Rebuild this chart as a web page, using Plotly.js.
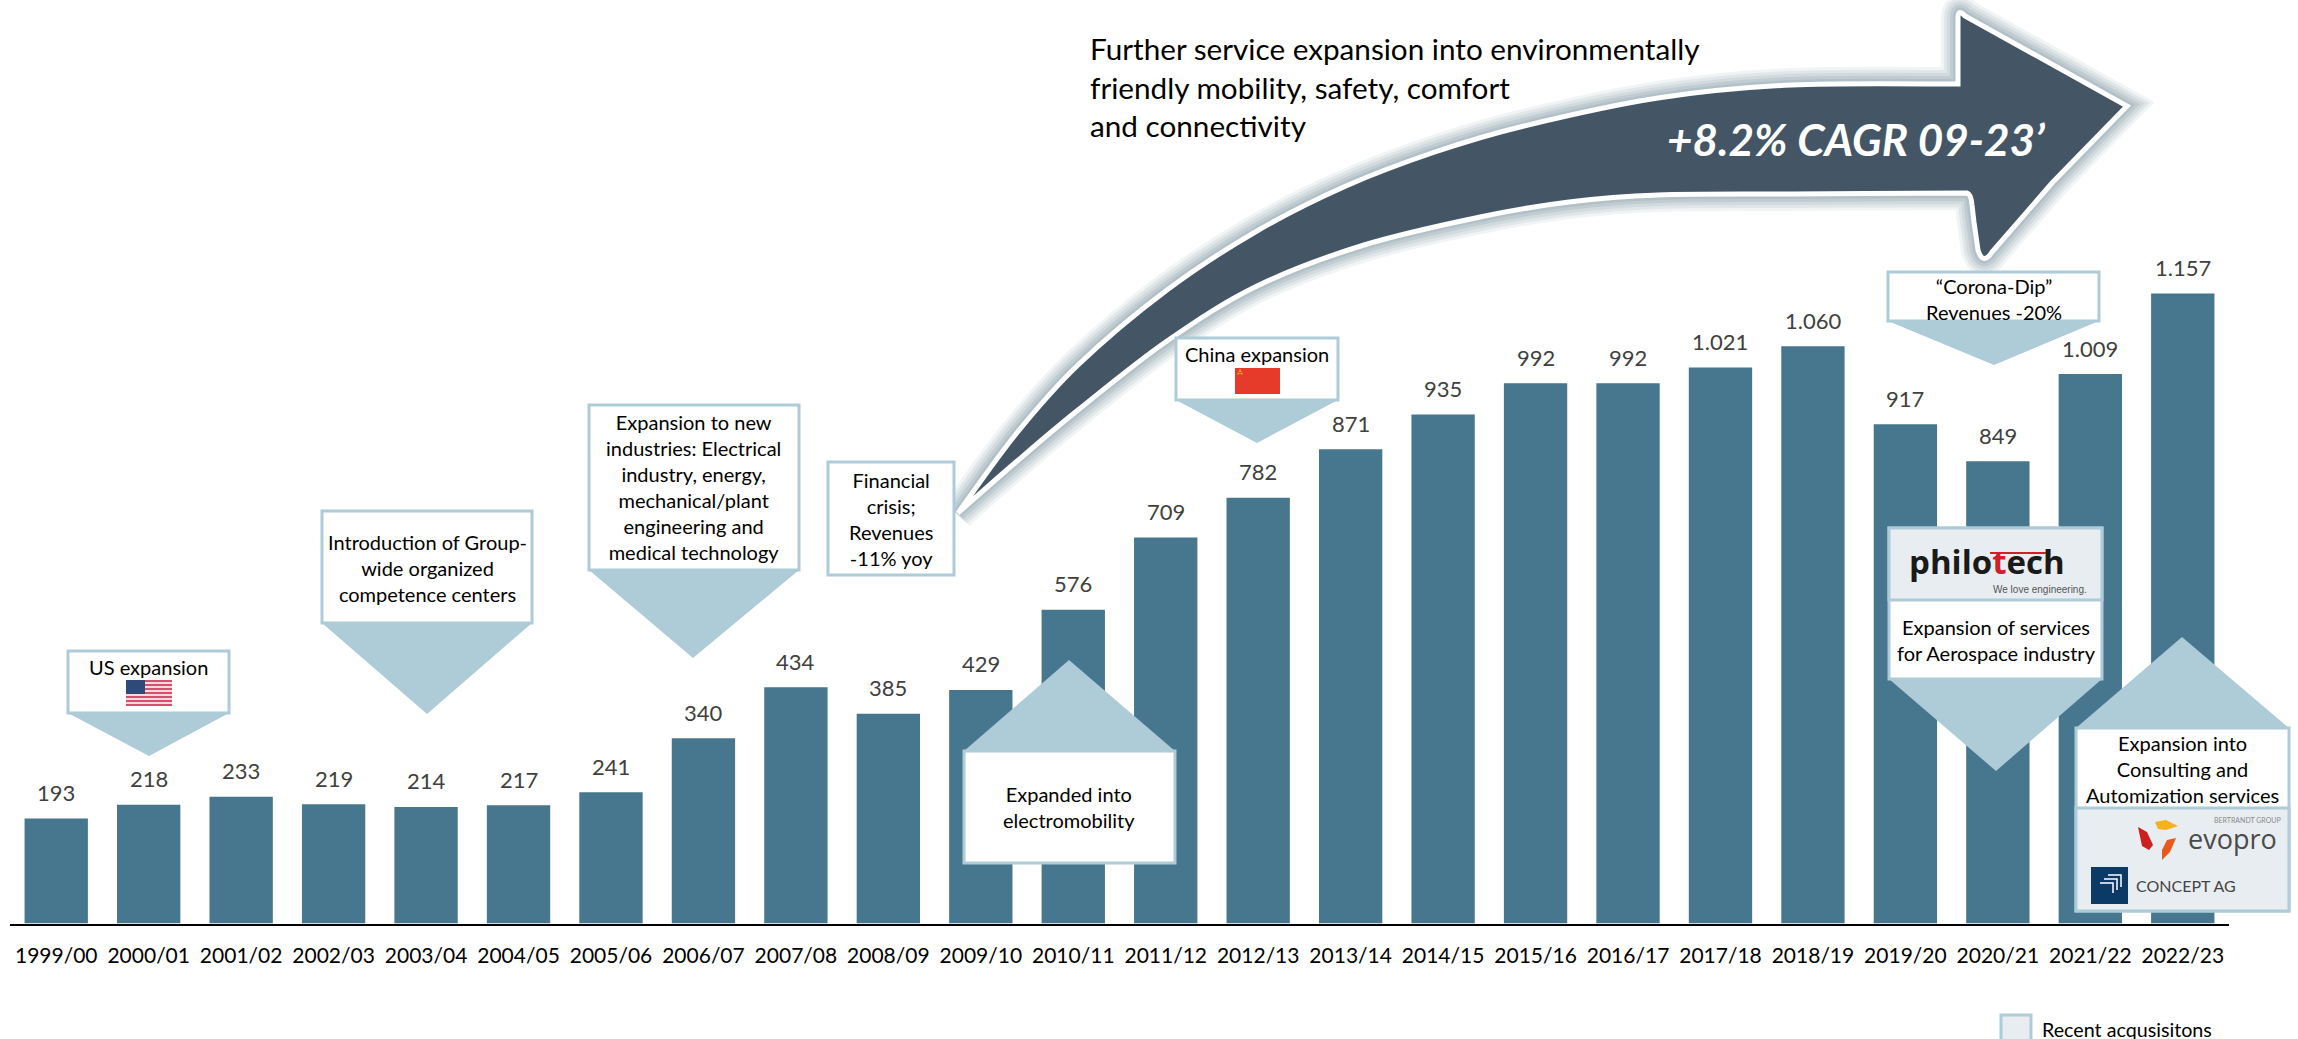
<!DOCTYPE html>
<html>
<head>
<meta charset="utf-8">
<script src="https://cdn.plot.ly/plotly-3.0.1.min.js"></script>
<style>html,body{margin:0;padding:0;background:#fff}#chart{width:2298px;height:1039px}</style>
</head>
<body>
<div id="chart"></div>
<script>
// Group revenue by fiscal year
const fiscalYears = ['1999/00','2000/01','2001/02','2002/03','2003/04','2004/05','2005/06','2006/07','2007/08','2008/09','2009/10','2010/11','2011/12','2012/13','2013/14','2014/15','2015/16','2016/17','2017/18','2018/19','2019/20','2020/21','2021/22','2022/23'];
const revenue = [193,218,233,219,214,217,241,340,434,385,429,576,709,782,871,935,992,992,1021,1060,917,849,1009,1157];
const revenueLabels = ['193','218','233','219','214','217','241','340','434','385','429','576','709','782','871','935','992','992','1.021','1.060','917','849','1.009','1.157'];

const W = 2298, H = 1039;
const FONT = 'Lato, Carlito, Calibri, sans-serif';
const BAR = '#47768f', PALE = '#aecbd8', CELL = '#e8edf1', ARROW = '#445665';

// Page pixels to paper fractions; margins are zero so the two line up exactly
const px = x => x / W;
const py = y => 1 - y / H;

function polyPath(pts) {
  return pts.map((p, i) => (i ? 'L' : 'M') + px(p[0]) + ',' + py(p[1])).join(' ') + ' Z';
}

// Catmull-Rom curve through the points, returned as path commands without the leading move
function curveThrough(pts) {
  let d = '';
  for (let i = 0; i < pts.length - 1; i++) {
    const p0 = pts[Math.max(i - 1, 0)], p1 = pts[i], p2 = pts[i + 1], p3 = pts[Math.min(i + 2, pts.length - 1)];
    const c1 = [p1[0] + (p2[0] - p0[0]) / 6, p1[1] + (p2[1] - p0[1]) / 6];
    const c2 = [p2[0] - (p3[0] - p1[0]) / 6, p2[1] - (p3[1] - p1[1]) / 6];
    d += ` C${px(c1[0])},${py(c1[1])} ${px(c2[0])},${py(c2[1])} ${px(p2[0])},${py(p2[1])}`;
  }
  return d;
}

const shapes = [];
const notes = [];

function addRect(x0, y0, x1, y1, fill, line, lw) {
  shapes.push({type: 'rect', xref: 'paper', yref: 'paper', x0: px(x0), x1: px(x1), y0: py(y0), y1: py(y1),
    fillcolor: fill, line: {color: line || fill, width: line ? lw : 0}, layer: 'above'});
}
function addPoly(pts, fill) {
  shapes.push({type: 'path', xref: 'paper', yref: 'paper', path: polyPath(pts), fillcolor: fill, line: {width: 0}, layer: 'above'});
}
function addText(x, y, text, size, color, extra) {
  notes.push(Object.assign({xref: 'paper', yref: 'paper', x: px(x), y: py(y), text: text, showarrow: false,
    xanchor: 'center', yanchor: 'middle', align: 'center', borderpad: 0,
    font: {family: FONT, size: size, color: color || '#000'}}, extra || {}));
}
// Outlined box with a pale triangular pointer
function callout(x0, y0, x1, y1, tipX, tipY, baseY) {
  addPoly([[x0, baseY], [x1, baseY], [tipX, tipY]], PALE);
  addRect(x0, y0, x1, y1, '#fff', PALE, 3);
}

// Large growth arrow: soft halo, white rim, dark body
const topEdge = [[958,513],[1016,434],[1078,365],[1167,290],[1257,231],[1346,186],[1435,152],[1524,126],[1658,98],[1792,85],[1958,84]];
const lowEdge = [[1967,193],[1792,194],[1658,195],[1569,202],[1480,217],[1364,245],[1257,286],[1167,341],[1078,410],[1016,462],[958,513]];
const arrowPath =
  'M' + px(958) + ',' + py(513) + curveThrough(topEdge) +
  ` L${px(1958)},${py(18)} Q${px(1958)},${py(8)} ${px(1965)},${py(16)} L${px(2127)},${py(106)}` +
  ` L${px(2052)},${py(183)} L${px(1992)},${py(252)} Q${px(1983)},${py(266)} ${px(1978)},${py(250)}` +
  ` L${px(1974)},${py(222)} L${px(1972)},${py(205)} Q${px(1971)},${py(194)} ${px(1967)},${py(193)}` +
  curveThrough(lowEdge) + ' Z';
[[34,0.12],[28,0.16],[22,0.2],[16,0.26],[10,0.3]].forEach(([w, a]) => {
  shapes.push({type: 'path', xref: 'paper', yref: 'paper', path: arrowPath, fillcolor: 'rgba(0,0,0,0)',
    line: {color: '#93a7b1', width: w}, opacity: a, layer: 'above'});
});
shapes.push({type: 'path', xref: 'paper', yref: 'paper', path: arrowPath, fillcolor: ARROW,
  line: {color: '#fff', width: 5}, layer: 'above'});

// Milestones along the bars
callout(68, 651, 229, 713, 149, 756, 713);
callout(322, 511, 532, 623, 427, 714, 623);
callout(589, 405, 799, 570, 693, 658, 570);
addRect(828, 462, 954, 575, '#fff', PALE, 3);
callout(964, 751, 1175, 863, 1069, 660, 751);
callout(1176, 338, 1338, 400, 1257, 443, 400);
callout(1888, 272, 2099, 321, 1994, 365, 321);
callout(1889, 528, 2102, 679, 1996, 771, 679);
addRect(1889, 528, 2102, 600, CELL, PALE, 3);
callout(2076, 728, 2289, 911, 2182, 637, 728);
addRect(2076, 808, 2289, 911, CELL, PALE, 3);

const STRIPES = 13, flagTop = 680, flagBottom = 706, stripeH = (flagBottom - flagTop) / STRIPES;
addRect(126, flagTop, 172, flagBottom, '#f4d9df');
for (let i = 0; i < STRIPES; i += 2) {
  addRect(126, flagTop + i * stripeH, 172, flagTop + (i + 1) * stripeH, '#d4506e');
}
addRect(126, flagTop, 145, flagTop + 7 * stripeH, '#2f4a78');

addRect(1235, 368, 1280, 394, '#e63b2a');
addPoly([[1240,369],[1243,375],[1237,372],[1243,372],[1237,375]], '#f2b01e');

// Logo lettering for the two acquisitions
addText(1987, 561, '<b>philo<span style="color:#cf1f2a">t</span>ech</b>', 33, '#1a1a1a', {font: {family: 'Open Sans, sans-serif', size: 33, color: '#1a1a1a'}});
addRect(1990, 552, 2050, 554, '#cf1f2a');
addText(2040, 589, 'We love engineering.', 10, '#555', {font: {family: 'Liberation Sans, Arial, sans-serif', size: 10, color: '#555'}});

addText(2232, 838, 'evopro', 27, '#4a4a4a', {font: {family: 'Open Sans, sans-serif', size: 27, color: '#4a4a4a'}});
addText(2247, 820, 'BERTRANDT GROUP', 7, '#8a8a8a');
addPoly([[2138,827],[2147,832],[2153,845],[2149,850],[2142,846]], '#cc1f1f');
addPoly([[2155,822],[2166,820],[2178,826],[2166,830],[2158,829]], '#f5b21c');
addPoly([[2176,838],[2170,852],[2162,860],[2162,850],[2167,840]], '#e8591a');

addRect(2091, 867, 2128, 904, '#0b3a66');
[[2100,883,2113,883,2113,893],[2104,879,2117,879,2117,890],[2108,875,2121,875,2121,887]].forEach(l => {
  shapes.push({type: 'path', xref: 'paper', yref: 'paper', layer: 'above', line: {color: '#fff', width: 1.5},
    path: `M${px(l[0])},${py(l[1])} L${px(l[2])},${py(l[3])} L${px(l[4])},${py(l[5])}`});
});
addText(2186, 885.5, 'CONCEPT AG', 16, '#444');

// Milestone captions
addText(148, 667, 'US expansion', 20);
addText(427, 567.5, 'Introduction of Group-<br>wide organized<br>competence centers', 20);
addText(693, 487, 'Expansion to new<br>industries: Electrical<br>industry, energy,<br>mechanical/plant<br>engineering and<br>medical technology', 20);
addText(891, 518.5, 'Financial<br>crisis;<br>Revenues<br>-11% yoy', 20);
addText(1069, 807, 'Expanded into<br>electromobility', 20);
addText(1257, 354, 'China expansion', 20);
addText(1994, 298.5, '“Corona-Dip”<br>Revenues -20%', 20);
addText(1996, 640, 'Expansion of services<br>for Aerospace industry', 20);
addText(2182, 768.5, 'Expansion into<br>Consulting and<br>Automization services', 20);

addText(1089, 87, 'Further service expansion into environmentally<br>friendly mobility, safety, comfort<br>and connectivity', 29.7, '#000', {xanchor: 'left', align: 'left'});
addText(1856, 139, '<b><i>+8.2% CAGR 09-23’</i></b>', 44, '#fff');

// Legend swatch runs off the bottom of the page
addRect(2001, 1015, 2031, 1045, CELL, PALE, 3);
addText(2041, 1029, 'Recent acqusisitons', 19.7, '#000', {xanchor: 'left'});

// Value labels sit a fixed distance above each bar
revenue.forEach((v, i) => {
  notes.push({xref: 'x', yref: 'y', x: fiscalYears[i], y: v, yshift: 26, text: revenueLabels[i], showarrow: false,
    xanchor: 'center', yanchor: 'middle', font: {family: FONT, size: 22, color: '#404040'}});
});

const trace = {type: 'bar', x: fiscalYears, y: revenue, marker: {color: BAR, line: {width: 0}}, hoverinfo: 'skip'};

const layout = {
  width: W, height: H,
  margin: {l: 0, r: 0, t: 0, b: 0, pad: 0},
  paper_bgcolor: '#fff', plot_bgcolor: '#fff',
  showlegend: false, bargap: 0.315,
  xaxis: {
    type: 'category', domain: [px(10), px(2229)], range: [-0.5, 23.5], automargin: false,
    showline: true, linecolor: '#000', linewidth: 2, ticks: '', showgrid: false, zeroline: false,
    ticklabelstandoff: 12, tickangle: 0, tickfont: {family: FONT, size: 21, color: '#000'}
  },
  yaxis: {domain: [py(923.5), 1], range: [0, 923.5 / 0.5445], visible: false, automargin: false, fixedrange: true},
  shapes: shapes,
  annotations: notes
};

Plotly.newPlot('chart', [trace], layout, {displayModeBar: false, staticPlot: true});
</script>
</body>
</html>
